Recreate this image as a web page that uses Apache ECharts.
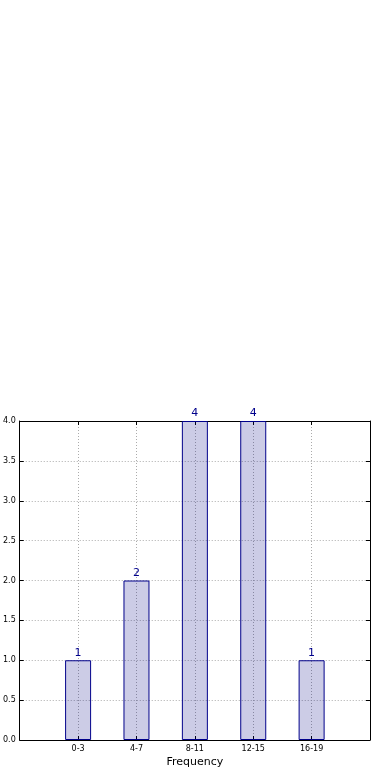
<!DOCTYPE html>
<html><head><meta charset="utf-8">
<script src="https://cdn.jsdelivr.net/npm/echarts@6/dist/echarts.min.js"></script>
<style>html,body{margin:0;padding:0;background:#fff}#c{width:390px;height:780px}</style>
</head><body><div id="c"></div>
<script>
var categories = ['0-3', '4-7', '8-11', '12-15', '16-19'];
var values = [1, 2, 4, 4, 1];
var yTicks = [0, 0.5, 1, 1.5, 2, 2.5, 3, 3.5, 4];
var xLabel = 'Frequency';

var chart = echarts.init(document.getElementById('c'));
var font = 'DejaVu Sans';
var barData = values.map(function (v, i) { return [i, v]; });
var grid = { color: '#ababab', type: [1, 2], width: 1 };
var xMin = -1, xMax = categories.length;
var yMin = yTicks[0], yMax = yTicks[yTicks.length - 1];
chart.setOption({
  animation: false,
  grid: { left: 19, right: 20, top: 421, bottom: 40 },
  xAxis: [{
    type: 'value', min: xMin, max: xMax, interval: 1,
    name: xLabel, nameLocation: 'middle', nameGap: 17,
    nameTextStyle: { fontFamily: font, fontSize: 11, color: '#000' },
    axisLine: { show: true, onZero: false, lineStyle: { color: '#000' } },
    axisTick: { show: true, inside: true, length: 4, lineStyle: { color: '#000' } },
    axisLabel: { fontFamily: font, fontSize: 8, color: '#000', margin: 5,
      formatter: function (v) { return categories[v] !== undefined ? categories[v] : ''; } },
    splitLine: { show: true, lineStyle: grid }
  }, {
    type: 'value', min: xMin, max: xMax, interval: 1, position: 'top',
    axisLine: { show: true, onZero: false, lineStyle: { color: '#000' } },
    axisTick: { show: true, inside: true, length: 4, lineStyle: { color: '#000' } },
    axisLabel: { show: false }, splitLine: { show: false }
  }],
  yAxis: [{
    type: 'value', min: yMin, max: yMax, interval: 0.5,
    axisLine: { show: true, onZero: false, lineStyle: { color: '#000' } },
    axisTick: { show: true, inside: true, length: 4, lineStyle: { color: '#000' } },
    axisLabel: { fontFamily: font, fontSize: 8, color: '#000', margin: 4,
      formatter: function (v) { return v.toFixed(1); } },
    splitLine: { show: true, lineStyle: grid }
  }, {
    type: 'value', min: yMin, max: yMax, interval: 0.5, position: 'right',
    axisLine: { show: true, onZero: false, lineStyle: { color: '#000' } },
    axisTick: { show: true, inside: true, length: 4, lineStyle: { color: '#000' } },
    axisLabel: { show: false }, splitLine: { show: false }
  }],
  series: [{
    type: 'bar', data: barData, barWidth: 26, xAxisIndex: 0, yAxisIndex: 0,
    itemStyle: { color: 'rgba(0,0,128,0.2)', borderColor: '#00008b', borderWidth: 1 },
    label: { show: true, position: 'top', distance: 2, fontFamily: font, fontSize: 11, color: '#00008b',
      formatter: function (p) { return p.value[1]; } }
  }]
});
</script></body></html>
